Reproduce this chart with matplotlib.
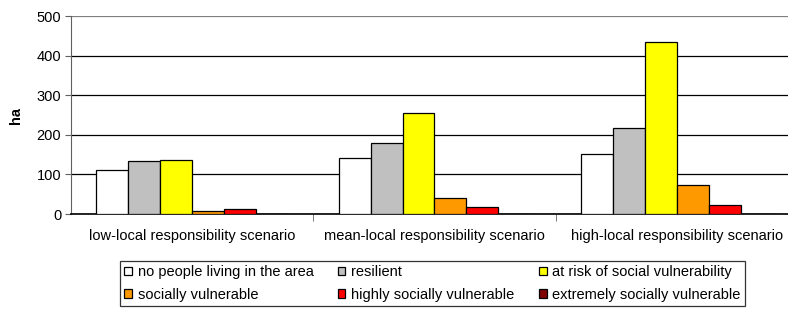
import numpy as np
import matplotlib.pyplot as plt

plt.rcParams['font.family'] = ['Liberation Sans', 'DejaVu Sans']

scenarios = ["low-local responsibility scenario",
             "mean-local responsibility scenario",
             "high-local responsibility scenario"]
classes = ["no people living in the area", "resilient", "at risk of social vulnerability",
           "socially vulnerable", "highly socially vulnerable", "extremely socially vulnerable"]
colors = ["#FFFFFF", "#C0C0C0", "#FFFF00", "#FF9900", "#FF0000", "#800000"]

# hectares per class, one list per scenario
no_people = [111, 141, 152]
resilient = [134, 180, 218]
at_risk = [136, 254, 434]
socially = [8, 40, 72]
highly = [12, 17, 23]
extremely = [0, 0, 0]
values = [no_people, resilient, at_risk, socially, highly, extremely]

fig = plt.figure(figsize=(7.88, 3.10), dpi=100)
ax = fig.add_axes([71/788, 1-214/310, 727/788, 198/310])

x = np.arange(len(scenarios))
w = 0.132
for i, (vals, c) in enumerate(zip(values, colors)):
    ax.bar(x + (i - 2.5) * w, vals, w, color=c, edgecolor="black", linewidth=0.9,
           label=classes[i], zorder=3)

ax.set_xlim(-0.5, 2.5)
ax.set_ylim(0, 500)
ax.set_yticks(range(0, 501, 100))
ax.tick_params(axis="y", labelsize=10.5, length=4, color="#606060", pad=3)
ax.grid(axis="y", color="black", linewidth=0.9, zorder=0)
ax.yaxis.get_gridlines()[-1].set_color("#808080")
ax.set_xticks(x)
ax.set_xticklabels(scenarios, fontsize=10.5)
ax.tick_params(axis="x", length=0, pad=11)
ax.set_xticks([0.5, 1.5], minor=True)
ax.tick_params(axis="x", which="minor", length=5, color="#606060")
for s in ["top", "right"]:
    ax.spines[s].set_visible(False)
ax.spines["left"].set_color("#606060")
ax.spines["bottom"].set_color("black")
ax.spines["bottom"].set_linewidth(1.2)
ax.set_ylabel("ha", fontsize=10.5, fontweight="bold", labelpad=10)

handles, labels = ax.get_legend_handles_labels()
order = [0, 3, 1, 4, 2, 5]
leg = fig.legend([handles[i] for i in order], [labels[i] for i in order],
                 ncol=3, loc="lower left", bbox_to_anchor=(120/788, 4/310),
                 fontsize=10.5, frameon=True, fancybox=False, edgecolor="black",
                 handlelength=0.5, handleheight=0.5, handletextpad=0.4,
                 columnspacing=1.7, labelspacing=0.6, borderpad=0.3,
                 borderaxespad=0)
leg.get_frame().set_linewidth(0.9)

fig.savefig("out.png", dpi=100)
